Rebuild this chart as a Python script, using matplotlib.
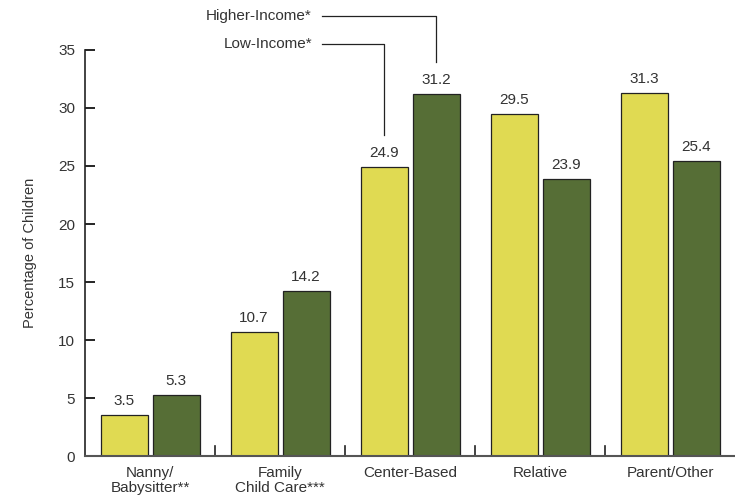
import matplotlib
matplotlib.use("Agg")
import matplotlib.pyplot as plt
import numpy as np

categories = ["Nanny/\nBabysitter**", "Family\nChild Care***", "Center-Based", "Relative", "Parent/Other"]
low_income = [3.5, 10.7, 24.9, 29.5, 31.3]
higher_income = [5.3, 14.2, 31.2, 23.9, 25.4]
series_names = ["Low-Income*", "Higher-Income*"]
yticks = [0, 5, 10, 15, 20, 25, 30, 35]

yellow = "#E0DA52"
green = "#566E36"
text_color = "#333333"
fs = 11

plt.rcParams["font.family"] = ["Liberation Sans", "DejaVu Sans"]

fig = plt.figure(figsize=(7.35, 4.96), dpi=100)
ax = fig.add_axes([85 / 735, 40 / 496, 650 / 735, 406 / 496])

x = np.arange(len(categories))
bw = 47 / 130
gap = 5 / 130
off = (bw + gap) / 2

ax.bar(x - off, low_income, bw, color=yellow, edgecolor="#222222", linewidth=0.9)
ax.bar(x + off, higher_income, bw, color=green, edgecolor="#222222", linewidth=0.9)

for xi, v in zip(x - off, low_income):
    ax.annotate(f"{v:.1f}", (xi, v), xytext=(0, 5), textcoords="offset points",
                ha="center", va="bottom", fontsize=fs, color=text_color)
for xi, v in zip(x + off, higher_income):
    ax.annotate(f"{v:.1f}", (xi, v), xytext=(0, 5), textcoords="offset points",
                ha="center", va="bottom", fontsize=fs, color=text_color)

ax.set_xlim(-0.5, len(categories) - 0.5)
ax.set_ylim(0, 35)
ax.set_yticks(yticks)
ax.tick_params(axis="y", direction="in", length=7, width=1.2, labelsize=fs,
               labelcolor=text_color, pad=7)
ax.set_xticks(x)
ax.set_xticklabels(categories, fontsize=fs, color=text_color, linespacing=1.15)
ax.tick_params(axis="x", length=0, pad=7)

# separators between categories along the baseline
for b in np.arange(0.5, len(categories) - 0.5, 1.0):
    ax.plot([b, b], [0, 0.85], color="#222222", lw=1.2, clip_on=False)

for s in ["top", "right"]:
    ax.spines[s].set_visible(False)
ax.spines["left"].set_linewidth(1.2)
ax.spines["left"].set_color("#222222")
ax.spines["bottom"].set_linewidth(1.5)
ax.spines["bottom"].set_color("#555555")

ax.set_ylabel("Percentage of Children", fontsize=10.5, color=text_color)
ax.yaxis.set_label_coords(-0.074, 0.5)

# leader lines naming the two series on the Center-Based pair
ci = 2
text_x = 1.246
line_x0 = 1.323
for xi, v, ylab, name in [(ci + off, higher_income[ci], 37.9, series_names[1]),
                          (ci - off, low_income[ci], 35.5, series_names[0])]:
    y_end = v + 2.8
    ax.plot([line_x0, xi, xi], [ylab, ylab, y_end], color="#222222", lw=0.9, clip_on=False)
    ax.text(text_x, ylab, name, ha="right", va="center", fontsize=fs, color=text_color,
            clip_on=False)

fig.savefig("out.png", dpi=100)
